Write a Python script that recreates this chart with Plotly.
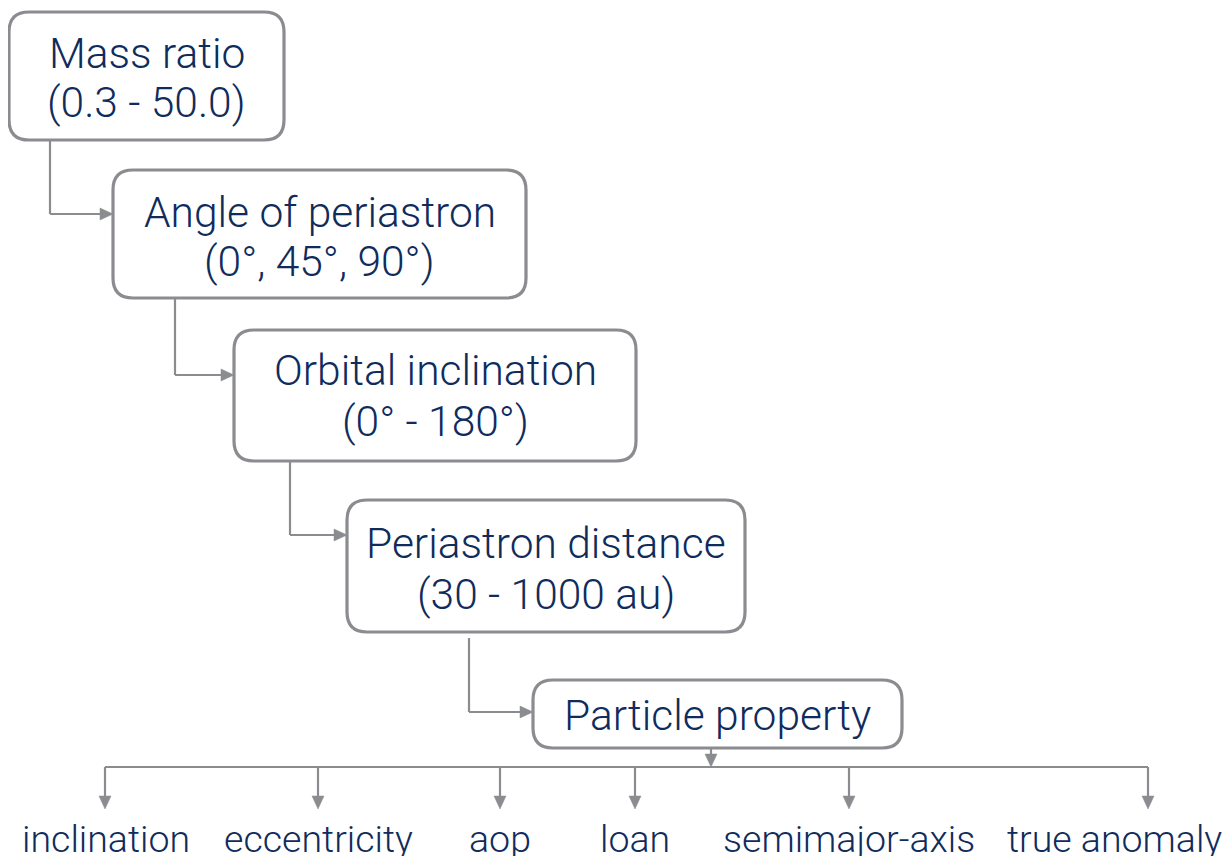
import plotly.graph_objects as go

# ---- data ----
box_titles = ["Mass ratio", "Angle of periastron", "Orbital inclination",
              "Periastron distance", "Particle property"]
box_ranges = ["(0.3 - 50.0)", "(0°, 45°, 90°)", "(0° - 180°)",
              "(30 - 1000 au)", ""]
properties = ["inclination", "eccentricity", "aop", "loan",
              "semimajor-axis", "true anomaly"]

# ---- layout (pixel-like axis units) ----
box_x0 = [9, 113, 234, 347, 533]
box_x1 = [284, 526, 636, 745, 902]
box_y0 = [12, 170, 330, 500, 680]
box_y1 = [140, 298, 461, 632, 748]
title_y = [53, 212, 370, 543, 715]
range_y = [102, 261, 421, 594, None]
conn_x = [50, 175, 290, 469]
conn_start = [140, 298, 461, 638]
conn_turn = [214, 375, 535, 712]
stem_x = 711
bar_y = 767
branch_x = [105, 318, 500, 635, 849, 1148]
branch_tip = 809
label_x = [106, 318, 500, 635, 849, 1114]
label_y = 839

W, H = 1231, 856
PAD = 8  # default page margin around the plot div
LINE = "#8a8c90"
TEXT = "#0f2c5c"
FONT = "Roboto"
WEIGHT = 300

fig = go.Figure()
shapes = []
annotations = []


def rounded_rect(x0, y0, x1, y1, r):
    return (f"M {x0+r},{y0} L {x1-r},{y0} Q {x1},{y0} {x1},{y0+r} "
            f"L {x1},{y1-r} Q {x1},{y1} {x1-r},{y1} L {x0+r},{y1} "
            f"Q {x0},{y1} {x0},{y1-r} L {x0},{y0+r} Q {x0},{y0} {x0+r},{y0} Z")


def line(x0, y0, x1, y1):
    shapes.append(dict(type="line", xref="x", yref="y", x0=x0, y0=y0, x1=x1, y1=y1,
                       line=dict(color=LINE, width=2.2), layer="below"))


def arrowhead(tx, ty, direction, L=13, half=6):
    if direction == "right":
        p = f"M {tx},{ty} L {tx-L},{ty-half} L {tx-L},{ty+half} Z"
    else:  # down
        p = f"M {tx},{ty} L {tx-half},{ty-L} L {tx+half},{ty-L} Z"
    shapes.append(dict(type="path", xref="x", yref="y", path=p,
                       fillcolor=LINE, line=dict(color=LINE, width=0.5)))


def text(x, y, s, size):
    annotations.append(dict(x=x, y=y, xref="x", yref="y", text=s, showarrow=False,
                            font=dict(family=FONT, size=size, color=TEXT, weight=WEIGHT),
                            xanchor="center", yanchor="middle"))


for i in range(len(box_titles)):
    shapes.append(dict(type="path", xref="x", yref="y",
                       path=rounded_rect(box_x0[i], box_y0[i], box_x1[i], box_y1[i], 20),
                       fillcolor="white", line=dict(color=LINE, width=3.2)))
    cx = (box_x0[i] + box_x1[i]) / 2
    text(cx, title_y[i], box_titles[i], 42.5)
    if box_ranges[i]:
        text(cx, range_y[i], box_ranges[i], 42.5)

# connectors between boxes
for i in range(len(conn_x)):
    target_x = box_x0[i + 1]
    line(conn_x[i], conn_start[i], conn_x[i], conn_turn[i])
    line(conn_x[i], conn_turn[i], target_x - 10, conn_turn[i])
    arrowhead(target_x, conn_turn[i], "right")

# stem from last box to bar
line(stem_x, box_y1[-1], stem_x, bar_y - 8)
arrowhead(stem_x, bar_y, "down")
line(min(branch_x), bar_y, max(branch_x), bar_y)
for bx in branch_x:
    line(bx, bar_y, bx, branch_tip - 10)
    arrowhead(bx, branch_tip, "down")

for lx, name in zip(label_x, properties):
    text(lx, label_y, name, 37.5)

fig.update_layout(
    width=W - PAD, height=H - PAD, margin=dict(l=0, r=0, t=0, b=0),
    paper_bgcolor="white", plot_bgcolor="white",
    xaxis=dict(range=[PAD, W], visible=False, fixedrange=True),
    yaxis=dict(range=[H, PAD], visible=False, fixedrange=True),
    shapes=shapes, annotations=annotations, showlegend=False,
)
fig.write_html("out.html")
